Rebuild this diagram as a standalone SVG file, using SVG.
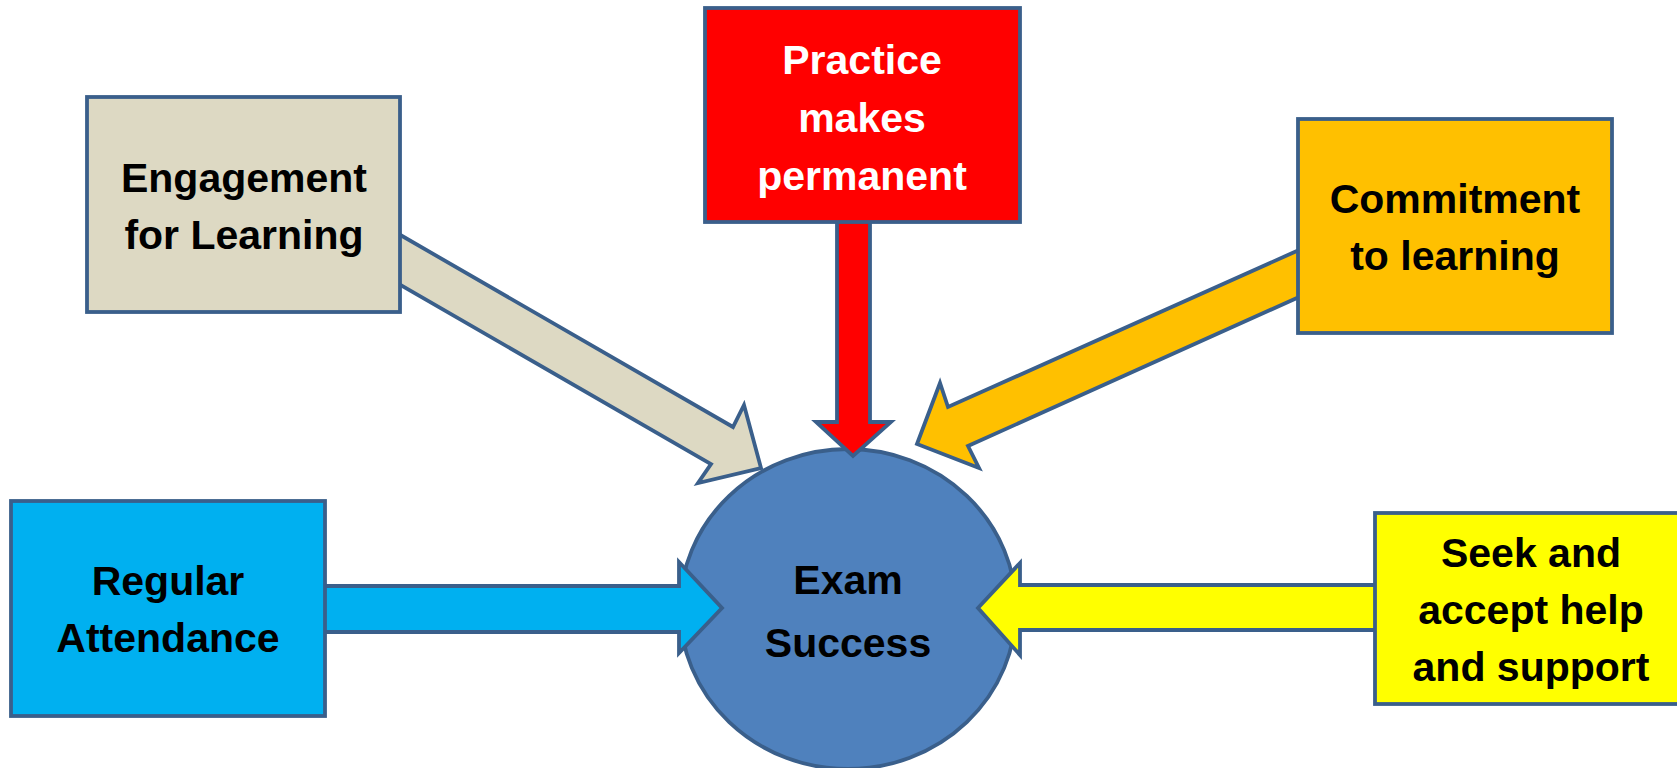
<svg xmlns="http://www.w3.org/2000/svg" width="1677" height="768" viewBox="0 0 1677 768">
<style>
.box{stroke:#3A5F8B;stroke-width:3.8}
.arr{stroke:#3A5F8B;stroke-width:3.8;stroke-linejoin:miter}
text{font-family:"Liberation Sans",Arial,sans-serif;font-weight:bold;font-size:41px;text-anchor:middle;fill:#000}
.w{fill:#fff}
</style>
<rect width="1677" height="768" fill="#fff"/>
<g id="exam-success">
<ellipse cx="848" cy="609" rx="168" ry="160" fill="#4F81BD" stroke="#3A5F8B" stroke-width="3.8"/>
<text x="848" y="594" font-size="43">Exam</text>
<text x="848" y="657" font-size="43">Success</text>
</g>
<g id="connectors">
<polygon class="arr" fill="#DDD9C3" points="390,229 733,427 744,405 761,468 698,483 711,464 390,279"/>
<polygon class="arr" fill="#FF0000" points="837,215 837,422 816,422 853,456 891,422 870,422 870,215"/>
<polygon class="arr" fill="#FFC000" points="1308,246 948,407 940,383 917,444 979,468 968,446 1308,293"/>
<polygon class="arr" fill="#00B0F0" points="315,586 679,586 679,562 722,608 679,653 679,632 315,632"/>
<polygon class="arr" fill="#FFFF00" points="1385,585 1020,585 1020,563 978,608 1020,655 1020,630 1385,630"/>
</g>
<g id="engagement">
<rect class="box" x="87" y="97" width="313" height="215" fill="#DDD9C3"/>
<text x="244" y="192">Engagement</text>
<text x="244" y="249">for Learning</text>
</g>
<g id="practice">
<rect class="box" x="705" y="8" width="315" height="214" fill="#FF0000"/>
<text class="w" x="862" y="74">Practice</text>
<text class="w" x="862" y="132">makes</text>
<text class="w" x="862" y="190">permanent</text>
</g>
<g id="commitment">
<rect class="box" x="1298" y="119" width="314" height="214" fill="#FFC000"/>
<text x="1455" y="213">Commitment</text>
<text x="1455" y="270">to learning</text>
</g>
<g id="regular-attendance">
<rect class="box" x="11" y="501" width="314" height="215" fill="#00B0F0"/>
<text x="168" y="595">Regular</text>
<text x="168" y="652">Attendance</text>
</g>
<g id="seek-help">
<rect class="box" x="1375" y="513" width="312" height="191" fill="#FFFF00"/>
<text x="1531" y="567">Seek and</text>
<text x="1531" y="624">accept help</text>
<text x="1531" y="681">and support</text>
</g>
</svg>
